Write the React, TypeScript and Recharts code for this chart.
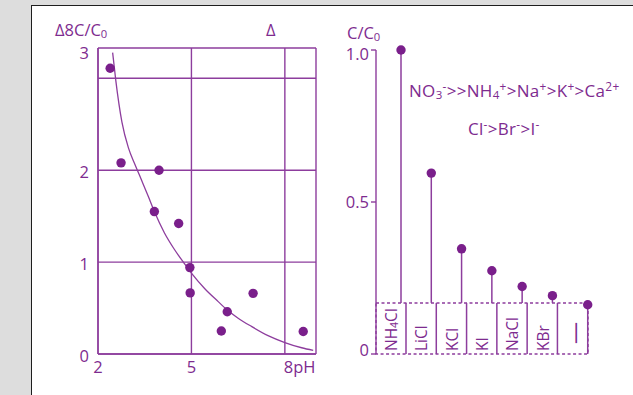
import React from "react";
import {
  ComposedChart,
  Line,
  Scatter,
  Bar,
  XAxis,
  YAxis,
  CartesianGrid,
  ReferenceArea,
} from "recharts";

// left panel: desorption ratio vs pH
const phPoints = [2.39, 2.74, 3.96, 3.81, 4.59, 4.95, 4.96, 6.15, 5.96, 6.98, 8.59];
const ratioPoints = [3.11, 2.08, 2.0, 1.55, 1.42, 0.94, 0.665, 0.46, 0.25, 0.66, 0.245];
const curvePh = [2.47, 2.57, 2.77, 2.98, 3.19, 3.4, 3.62, 3.81, 4.13, 4.45, 4.76, 5.0, 5.43, 5.86, 6.18, 6.5, 6.93, 7.46, 8.0, 8.54, 8.91];
const curveRatio = [3.28, 2.98, 2.52, 2.24, 2.06, 1.89, 1.71, 1.55, 1.32, 1.14, 0.99, 0.88, 0.71, 0.57, 0.47, 0.39, 0.3, 0.2, 0.125, 0.068, 0.04];
const phTicks = [2, 5, 8, 9];
const phTickLabels = ["2", "5", "8pH", ""];
const ratioTicks = [0, 1, 2, 3, 3.33];
const ratioTickLabels = ["0", "1", "2", "", "3"];

// right panel: C/C0 per salt
const salts = ["NH4Cl", "LiCl", "KCl", "KI", "NaCl", "KBr", "—"];
const saltRatio = [1.0, 0.595, 0.346, 0.274, 0.222, 0.192, 0.162];
const boxTop = 0.168;
const saltTicks = [0, 0.5, 1.0];

const TEXT = "#7e2b8f";
const LINE = "#8d3d9d";
const DOT = "#7a1f8b";
const FONT = "'Open Sans', sans-serif";
const FS = 16.5;

const points = phPoints.map((ph, i) => ({ ph, ratio: ratioPoints[i] }));
const curve = curvePh.map((ph, i) => ({ ph, ratio: curveRatio[i] }));
const saltRows = salts.map((salt, i) => ({
  salt,
  value: saltRatio[i],
  range: saltRatio[i] < boxTop ? [0, saltRatio[i]] : [boxTop, saltRatio[i]],
}));

const PhTick = ({ x, y, payload }: any) => {
  const label = phTickLabels[phTicks.indexOf(payload.value)] ?? "";
  const wide = label.length > 1;
  return (
    <text x={wide ? x - 1 : x} y={y} dy={11} textAnchor={wide ? "start" : "middle"}
      fill={TEXT} fontSize={FS} fontFamily={FONT}>
      {label}
    </text>
  );
};

const RatioTick = ({ x, y, payload }: any) => {
  const idx = ratioTicks.indexOf(payload.value);
  const label = ratioTickLabels[idx] ?? "";
  const top = idx === ratioTicks.length - 1;
  return (
    <text x={x} y={y} dy={top ? 10.5 : 8} textAnchor="end" fill={TEXT} fontSize={FS} fontFamily={FONT}>
      {label}
    </text>
  );
};

const SaltAxisTick = ({ x, y, payload }: any) => {
  const v = payload.value;
  return (
    <text x={x} y={y} dy={6 + (v - 0.5) * 8} textAnchor="end" fill={TEXT} fontSize={FS} fontFamily={FONT}>
      {v === 0 ? "0" : v.toFixed(1)}
    </text>
  );
};

const formula = (label: string) =>
  label.split(/(\d)/).map((part, i) =>
    /\d/.test(part) ? (
      <tspan key={i} fontSize={10.5} dy={3}>{part}</tspan>
    ) : (
      <tspan key={i} dy={i > 0 ? -3 : 0}>{part}</tspan>
    )
  );

const SaltTick = ({ x, y, payload }: any) => {
  const dash = payload.value === "—";
  const y0 = y - (dash ? 10 : 3);
  return (
    <text x={x} y={y0} transform={`rotate(-90 ${x} ${y0})`} textAnchor="start"
      dominantBaseline="central" fill={TEXT} fontSize={dash ? 22 : 15.5} fontFamily={FONT}>
      {formula(payload.value)}
    </text>
  );
};

const Lollipop = (props: any) => {
  const { x, y, width, height, background, payload } = props;
  const inBox = payload.value < boxTop;
  const sx = inBox ? x + width : x + width - 5;
  const bottom = background ? background.y + background.height : y + height;
  return (
    <g>
      <line x1={sx} x2={sx} y1={y} y2={y + height} stroke={LINE} strokeWidth={1.5} />
      {!inBox && (
        <line x1={x + width} x2={x + width} y1={y + height} y2={bottom} stroke={LINE} strokeWidth={1.5} />
      )}
      <circle cx={sx} cy={y} r={4.7} fill={DOT} />
    </g>
  );
};

const note: React.CSSProperties = {
  position: "absolute",
  whiteSpace: "nowrap",
  fontFamily: FONT,
  fontSize: FS,
  lineHeight: `${FS}px`,
  color: TEXT,
};
const big: React.CSSProperties = { ...note, fontSize: 17, lineHeight: "17px", letterSpacing: 0.3 };
const sub: React.CSSProperties = { fontSize: "0.68em", verticalAlign: "-0.18em" };
const sup: React.CSSProperties = { fontSize: "0.7em", verticalAlign: "0.5em" };

export default function App() {
  return (
    <div style={{ position: "fixed", left: 0, top: 0, width: 633, height: 395, background: "#dddddd", overflow: "hidden" }}>
      <div style={{ position: "absolute", left: 31, top: 5, right: -2, bottom: -2, background: "#fff", borderLeft: "1.5px solid #1e1e1e", borderTop: "1.5px solid #1e1e1e" }} />
      <div style={{ position: "absolute", left: 0, top: 0 }}>
        <ComposedChart width={330} height={395} margin={{ top: 48, right: 14, bottom: 11, left: 0 }}>
          <CartesianGrid stroke={LINE} strokeWidth={1.4} fill="none" />
          <XAxis type="number" dataKey="ph" domain={[2, 9]} ticks={phTicks} tick={PhTick}
            tickLine={false} tickSize={6} tickMargin={2} height={30}
            axisLine={{ stroke: LINE, strokeWidth: 1.4 }} allowDataOverflow />
          <YAxis type="number" dataKey="ratio" domain={[0, 3.33]} ticks={ratioTicks} tick={RatioTick}
            tickLine={false} tickSize={6} tickMargin={3} width={98}
            axisLine={{ stroke: LINE, strokeWidth: 1.4 }} allowDataOverflow />
          <Line data={curve} dataKey="ratio" type="monotone" stroke={LINE} strokeWidth={1.3}
            dot={false} isAnimationActive={false} />
          <Scatter data={points} dataKey="ratio" isAnimationActive={false}
            shape={(p: any) => <circle cx={p.cx} cy={p.cy} r={4.7} fill={DOT} />} />
        </ComposedChart>
      </div>
      <div style={{ position: "absolute", left: 330, top: 0 }}>
        <ComposedChart width={303} height={395} data={saltRows} barCategoryGap={0} barGap={0}
          margin={{ top: 50, right: 45, bottom: 40, left: 0 }}>
          <ReferenceArea y1={0} y2={boxTop} fill="none" stroke={LINE} strokeWidth={1.4} strokeDasharray="3 2.5" />
          <XAxis dataKey="salt" type="category" height={1} axisLine={false} tickLine={false}
            tickSize={0} tickMargin={0} interval={0} tick={SaltTick} />
          <YAxis type="number" domain={[0, 1]} ticks={saltTicks} width={46} tickSize={5} tickMargin={2}
            tick={SaltAxisTick}
            axisLine={{ stroke: LINE, strokeWidth: 1.4 }} tickLine={{ stroke: LINE, strokeWidth: 1.4 }} />
          <Bar dataKey="range" shape={Lollipop} isAnimationActive={false} />
        </ComposedChart>
      </div>
      <div style={{ ...note, left: 55, top: 21.5 }}>Δ8C/C<span style={sub}>0</span></div>
      <div style={{ ...note, left: 266, top: 22 }}>Δ</div>
      <div style={{ ...note, left: 347, top: 24.5 }}>C/C<span style={sub}>0</span></div>
      <div style={{ ...big, left: 409, top: 77.5 }}>
        NO<span style={sub}>3</span><span style={sup}>-</span>&gt;&gt;NH<span style={sub}>4</span><span style={sup}>+</span>&gt;Na<span style={sup}>+</span>&gt;K<span style={sup}>+</span>&gt;Ca<span style={sup}>2+</span>
      </div>
      <div style={{ ...big, left: 468, top: 116 }}>
        Cl<span style={sup}>-</span>&gt;Br<span style={sup}>-</span>&gt;I<span style={sup}>-</span>
      </div>
    </div>
  );
}
